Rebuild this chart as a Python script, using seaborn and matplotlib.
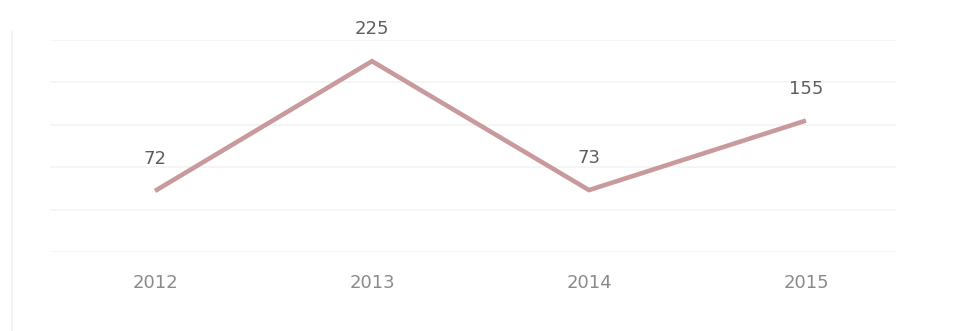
import matplotlib
matplotlib.use("Agg")
import matplotlib.pyplot as plt
import seaborn as sns
import pandas as pd
from matplotlib.lines import Line2D

years = ["2012", "2013", "2014", "2015"]
counts = [72, 225, 73, 155]
y_ticks = [0, 50, 100, 150, 200, 250]

line_color = "#c89a9c"
grid_color = "#f3f3f3"
year_color = "#8a8a8a"
value_color = "#5e5e5e"

sns.set_theme(style="white")
plt.rcParams["font.family"] = ["DejaVu Sans"]

df = pd.DataFrame({"year": years, "count": counts})

fig = plt.figure(figsize=(9.66, 3.31), dpi=100)
ax = fig.add_axes([50 / 966, 79 / 331, 846 / 966, 212 / 331])

sns.lineplot(data=df, x="year", y="count", ax=ax, color=line_color,
             linewidth=3.3, sort=False)
for ln in ax.lines:
    ln.set_solid_capstyle("butt")
    ln.set_solid_joinstyle("miter")

ax.set_xlim(-0.484, 3.415)
ax.set_ylim(0, 250)
ax.set_yticks(y_ticks)
ax.yaxis.grid(True, color=grid_color, linewidth=1.2)
ax.set_axisbelow(True)
ax.tick_params(axis="y", left=False, labelleft=False)
ax.tick_params(axis="x", bottom=False, labelsize=13, labelcolor=year_color, pad=10)
ax.set_xlabel("")
ax.set_ylabel("")
for side in ["top", "right", "left", "bottom"]:
    ax.spines[side].set_visible(False)
ax.patch.set_alpha(0)

for i, v in enumerate(counts):
    ax.annotate(str(v), (i, v), xytext=(0, 23), textcoords="offset points",
                ha="center", va="center", fontsize=13, color=value_color)

# thin border on the left edge of the frame
fig.add_artist(Line2D([12 / 966, 12 / 966], [0.0, 300 / 331],
                      transform=fig.transFigure, color="#f2f2f2", linewidth=1.2))

fig.savefig("out.png", dpi=100, facecolor="white")
